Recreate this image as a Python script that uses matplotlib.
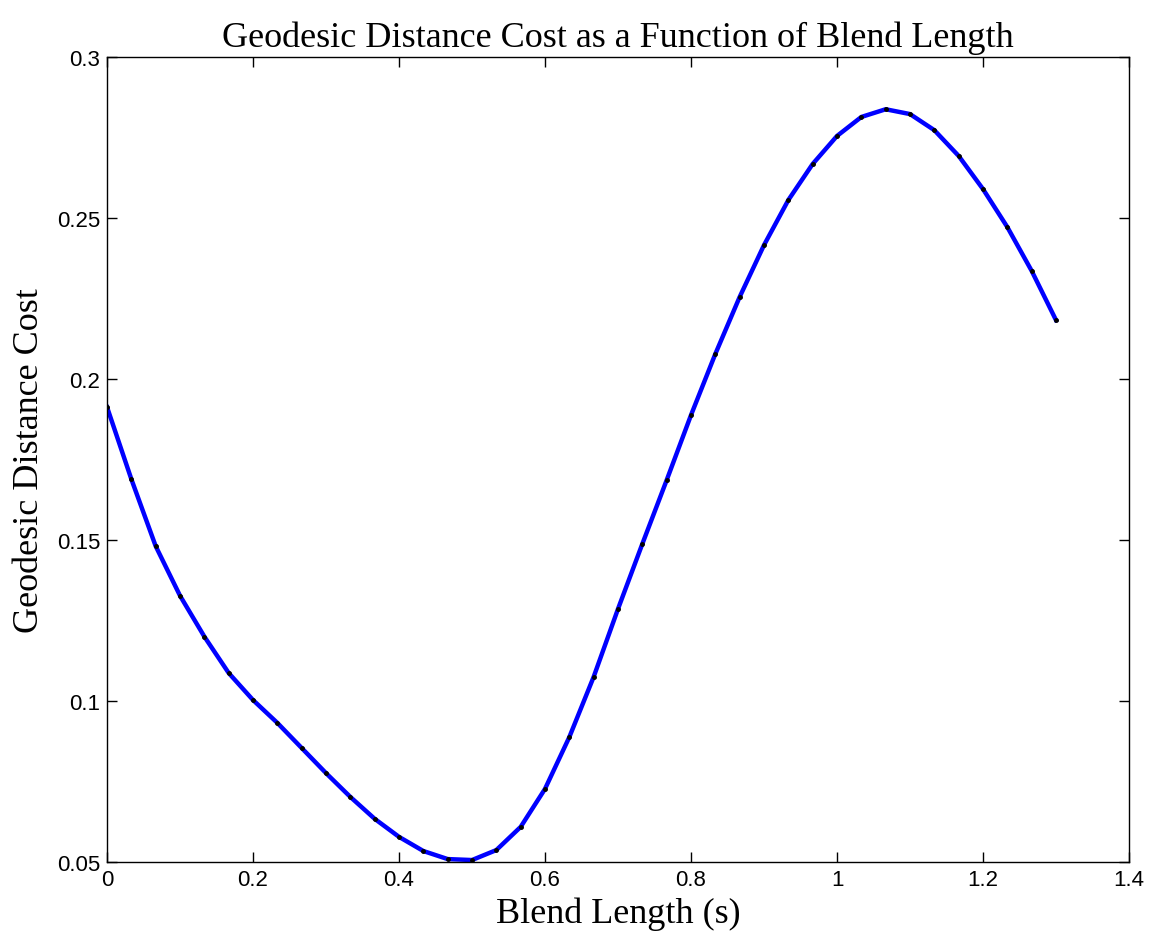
import numpy as np
import matplotlib.pyplot as plt

# blend lengths sampled every 1/30 s
blend_len = np.arange(40) / 30.0
cost = [0.1913, 0.1689, 0.1481, 0.1327, 0.1200, 0.1087, 0.1003, 0.0932,
        0.0854, 0.0776, 0.0702, 0.0634, 0.0578, 0.0534, 0.0509, 0.0506,
        0.0537, 0.0609, 0.0727, 0.0888, 0.1075, 0.1286, 0.1488, 0.1686,
        0.1888, 0.2078, 0.2255, 0.2416, 0.2556, 0.2668, 0.2755, 0.2814,
        0.2838, 0.2823, 0.2773, 0.2693, 0.2590, 0.2472, 0.2336, 0.2183]

fig = plt.figure(figsize=(11.57, 9.37), dpi=100)
ax = fig.add_axes([0.0925, 0.079, 0.8833, 0.859])

ax.plot(blend_len, cost, color='blue', linewidth=3.2)
ax.plot(blend_len, cost, '.', color='k', markersize=5)

ax.set_xlim(0, 1.4)
ax.set_ylim(0.05, 0.3)
ax.set_xticks(np.arange(0, 1.41, 0.2))
ax.set_xticklabels(['0', '0.2', '0.4', '0.6', '0.8', '1', '1.2', '1.4'])
ax.set_yticks([0.05, 0.1, 0.15, 0.2, 0.25, 0.3])
ax.set_yticklabels(['0.05', '0.1', '0.15', '0.2', '0.25', '0.3'])
ax.tick_params(direction='in', top=True, right=True, length=7, width=1,
               labelsize=16, pad=5)
for lab in ax.get_xticklabels() + ax.get_yticklabels():
    lab.set_family('Liberation Sans')
for sp in ax.spines.values():
    sp.set_linewidth(1)

ax.set_title('Geodesic Distance Cost as a Function of Blend Length',
             family='Liberation Serif', fontsize=26, pad=8)
ax.set_xlabel('Blend Length (s)', family='Liberation Serif', fontsize=26, labelpad=5)
ax.set_ylabel('Geodesic Distance Cost', family='Liberation Serif', fontsize=26, labelpad=8)

fig.savefig('out.png', dpi=100)
